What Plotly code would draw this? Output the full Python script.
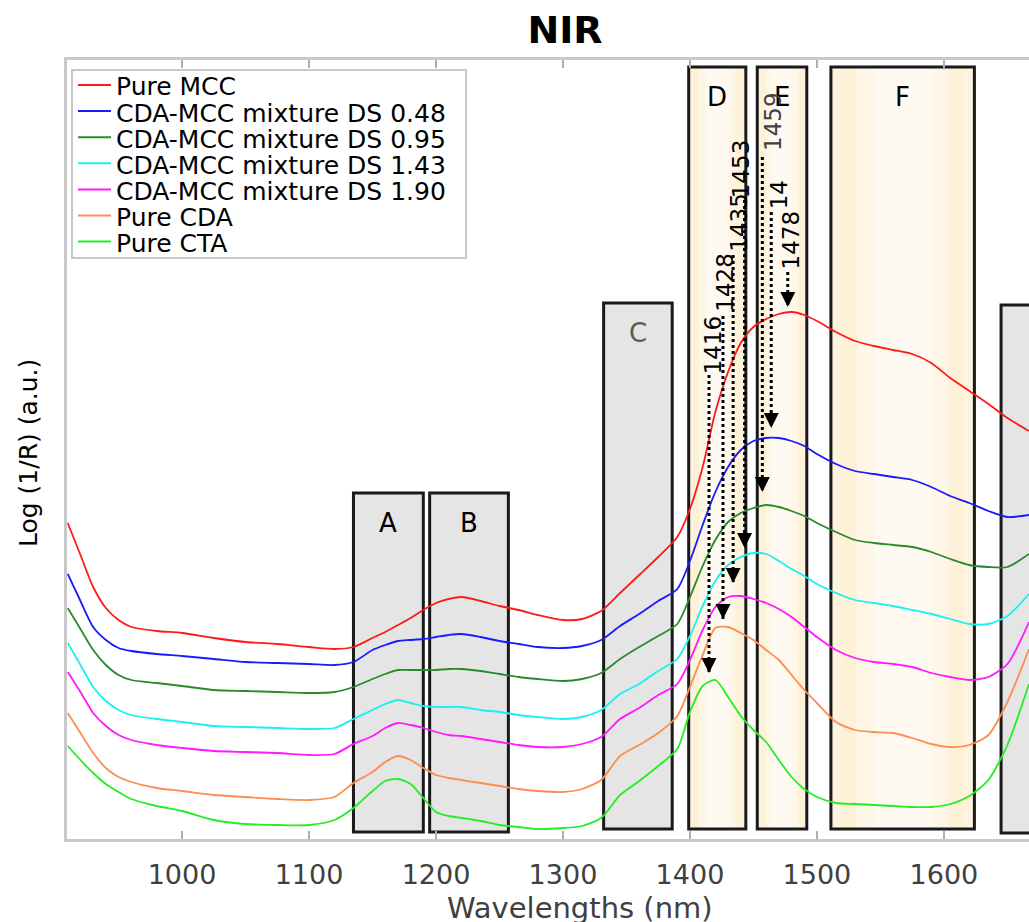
import plotly.graph_objects as go

# ---------------- data ----------------
wavelength = [910, 920, 930, 940, 950, 960, 980, 1000, 1025, 1050, 1075, 1100,
              1120, 1135, 1150, 1160, 1170, 1180, 1190, 1200, 1210, 1220, 1235,
              1250, 1265, 1280, 1300, 1315, 1330, 1345, 1360, 1375, 1390, 1400,
              1410, 1420, 1430, 1440, 1450, 1460, 1470, 1480, 1490, 1500, 1515,
              1530, 1545, 1560, 1575, 1590, 1605, 1620, 1635, 1650, 1667]

pure_mcc = [3.16, 2.84, 2.52, 2.31, 2.19, 2.12, 2.08, 2.06, 2.01, 1.97, 1.95, 1.92,
            1.90, 1.92, 2.01, 2.07, 2.14, 2.21, 2.29, 2.36, 2.40, 2.42, 2.38,
            2.33, 2.29, 2.24, 2.19, 2.20, 2.28, 2.46, 2.64, 2.82, 3.02, 3.30,
            3.72, 4.27, 4.67, 4.96, 5.12, 5.20, 5.25, 5.27, 5.24, 5.18, 5.07,
            4.98, 4.93, 4.89, 4.85, 4.76, 4.61, 4.48, 4.35, 4.21, 4.08]

ds_048 = [2.65, 2.38, 2.12, 1.99, 1.91, 1.88, 1.85, 1.83, 1.80, 1.77, 1.76, 1.75,
          1.74, 1.77, 1.89, 1.94, 1.98, 1.99, 2.00, 2.02, 2.04, 2.05, 2.02,
          1.98, 1.95, 1.92, 1.91, 1.93, 1.99, 2.13, 2.25, 2.38, 2.50, 2.78,
          3.14, 3.47, 3.72, 3.89, 3.98, 4.01, 4.01, 3.98, 3.93, 3.85, 3.75,
          3.68, 3.65, 3.62, 3.59, 3.52, 3.43, 3.36, 3.28, 3.22, 3.24]

ds_095 = [2.31, 2.10, 1.89, 1.74, 1.64, 1.59, 1.56, 1.53, 1.49, 1.48, 1.47, 1.46,
          1.47, 1.52, 1.60, 1.65, 1.69, 1.69, 1.69, 1.69, 1.70, 1.70, 1.68,
          1.65, 1.62, 1.60, 1.58, 1.60, 1.66, 1.80, 1.92, 2.03, 2.15, 2.42,
          2.73, 2.99, 3.17, 3.26, 3.31, 3.34, 3.32, 3.28, 3.23, 3.16, 3.07,
          2.99, 2.96, 2.94, 2.92, 2.87, 2.80, 2.74, 2.72, 2.72, 2.85]

ds_143 = [1.96, 1.74, 1.52, 1.38, 1.29, 1.24, 1.20, 1.17, 1.13, 1.12, 1.11, 1.10,
          1.11, 1.20, 1.29, 1.35, 1.39, 1.36, 1.33, 1.32, 1.32, 1.32, 1.29,
          1.27, 1.24, 1.22, 1.20, 1.22, 1.29, 1.45, 1.55, 1.68, 1.80, 2.03,
          2.33, 2.58, 2.74, 2.82, 2.86, 2.85, 2.78, 2.70, 2.63, 2.55, 2.46,
          2.39, 2.36, 2.33, 2.29, 2.25, 2.20, 2.15, 2.15, 2.23, 2.45]

ds_190 = [1.67, 1.47, 1.26, 1.13, 1.04, 0.99, 0.94, 0.91, 0.88, 0.87, 0.86, 0.84,
          0.85, 0.95, 1.03, 1.11, 1.16, 1.14, 1.11, 1.07, 1.04, 1.03, 1.00,
          0.97, 0.94, 0.92, 0.92, 0.95, 1.02, 1.20, 1.31, 1.44, 1.55, 1.79,
          2.09, 2.32, 2.42, 2.43, 2.40, 2.36, 2.30, 2.22, 2.12, 2.02, 1.89,
          1.81, 1.77, 1.75, 1.72, 1.66, 1.62, 1.59, 1.62, 1.75, 2.17]

pure_cda = [1.26, 1.06, 0.86, 0.71, 0.62, 0.57, 0.51, 0.48, 0.44, 0.42, 0.40, 0.39,
            0.42, 0.56, 0.67, 0.77, 0.83, 0.79, 0.71, 0.64, 0.61, 0.59, 0.56,
            0.53, 0.50, 0.48, 0.47, 0.50, 0.59, 0.83, 0.94, 1.06, 1.23, 1.52,
            1.84, 2.11, 2.12, 2.06, 1.99, 1.89, 1.79, 1.64, 1.49, 1.36, 1.17,
            1.09, 1.07, 1.06, 1.01, 0.95, 0.92, 0.94, 1.04, 1.37, 1.90]

pure_cta = [0.93, 0.79, 0.66, 0.55, 0.47, 0.40, 0.33, 0.28, 0.19, 0.15, 0.14, 0.14,
            0.19, 0.31, 0.48, 0.58, 0.60, 0.55, 0.41, 0.27, 0.23, 0.21, 0.18,
            0.14, 0.12, 0.10, 0.11, 0.13, 0.21, 0.44, 0.58, 0.73, 0.90, 1.27,
            1.53, 1.59, 1.42, 1.23, 1.09, 0.97, 0.79, 0.62, 0.50, 0.42, 0.36,
            0.35, 0.34, 0.33, 0.32, 0.32, 0.35, 0.43, 0.59, 0.94, 1.55]

series_names = ["Pure MCC", "CDA-MCC mixture DS 0.48", "CDA-MCC mixture DS 0.95",
                "CDA-MCC mixture DS 1.43", "CDA-MCC mixture DS 1.90",
                "Pure CDA", "Pure CTA"]
series_values = [pure_mcc, ds_048, ds_095, ds_143, ds_190, pure_cda, pure_cta]
series_colors = ["#ff1a1a", "#1a1aff", "#2a8a2a", "#19f0f0", "#ff19ff",
                 "#ff8c50", "#22ee22"]

# spectral band regions
band_labels = ["A", "B", "C", "D", "E", "F", "G"]
band_start = [1135, 1195, 1332, 1399, 1453, 1511, 1645]
band_end = [1190, 1257, 1386, 1444, 1492, 1624, 1720]
band_low = [0.07, 0.07, 0.10, 0.10, 0.10, 0.10, 0.06]
band_high = [3.46, 3.46, 5.36, 7.72, 7.72, 7.72, 5.34]
band_kind = ["gray", "gray", "gray", "cream", "cream", "cream", "gray"]

# peak annotations (wavelength labels with dotted arrows)
peak_labels = ["1416", "1428", "1435", "1453", "1459", "14", "1478"]
peak_label_colors = ["black", "black", "black", "black", "#404040", "black", "black"]
arrow_x = [1415, 1426, 1434, 1443, 1457, 1464, 1477]
arrow_top = [4.64, 5.23, 5.84, 6.39, 6.82, 6.27, 5.67]
arrow_tip = [1.66, 2.20, 2.56, 2.91, 3.47, 4.11, 5.32]
label_x = [1418, 1427, 1438, 1440, 1465, 1470, 1479.5]
label_bottom = [4.63, 5.25, 5.85, 6.39, 6.86, 6.28, 5.68]

FONT = "DejaVu Sans"

# layout geometry (pixels)
W, H = 1029, 922
ML, MR, MT, MB = 67, 0, 60, 83
PW, PH = W - ML - MR, H - MT - MB


def px(xp):
    return (xp - ML) / PW


def py(yp):
    return (H - MB - yp) / PH


fig = go.Figure()
for name, vals, col in zip(series_names, series_values, series_colors):
    fig.add_trace(go.Scatter(
        x=wavelength, y=vals, mode="lines", name=name, showlegend=False,
        line=dict(color=col, width=1.8, shape="spline", smoothing=0.7)))

# band rectangles
for lab, x0, x1, y0, y1, kind in zip(band_labels, band_start, band_end,
                                      band_low, band_high, band_kind):
    fill = "#e5e5e5" if kind == "gray" else "#fdf3de"
    fig.add_shape(type="rect", xref="x", yref="y", x0=x0, x1=x1, y0=y0, y1=y1,
                  line=dict(width=0), fillcolor=fill, layer="below")
    if kind == "cream":
        for frac, c in [(0.08, "#fdf1d8"), (0.18, "#fef6e6"), (0.30, "#fffaf1")]:
            fig.add_shape(type="rect", xref="x", yref="y",
                          x0=x0 + (x1 - x0) * frac, x1=x1 - (x1 - x0) * frac,
                          y0=y0, y1=y1, line=dict(width=0), fillcolor=c,
                          layer="below")
    fig.add_shape(type="rect", xref="x", yref="y", x0=x0, x1=x1, y0=y0, y1=y1,
                  line=dict(color="#1a1a1a", width=3), fillcolor="rgba(0,0,0,0)",
                  layer="below")
    fig.add_annotation(x=(x0 + x1) / 2, y=y1, xref="x", yref="y", text=lab,
                       showarrow=False, yanchor="middle", yshift=-30,
                       font=dict(family=FONT, size=26,
                                 color="#595959" if lab == "C" else "black"))

# dotted arrows and labels
for lab, col, ax_, top, tip, lx, lb in zip(peak_labels, peak_label_colors, arrow_x,
                                          arrow_top, arrow_tip, label_x, label_bottom):
    fig.add_shape(type="line", xref="x", yref="y", x0=ax_, x1=ax_, y0=top, y1=tip,
                  line=dict(color="black", width=3, dash="dot"), layer="above")
    fig.add_annotation(x=ax_, y=tip, xref="x", yref="y", text="", showarrow=True,
                       ax=0, ay=-16, arrowhead=2, arrowsize=1, arrowwidth=3,
                       arrowcolor="black", standoff=0)
    fig.add_annotation(x=lx, y=lb, xref="x", yref="y", text=lab, showarrow=False,
                       textangle=-90, xanchor="center", yanchor="bottom",
                       font=dict(family=FONT, size=23, color=col))

# legend (drawn as a boxed key in the upper-left corner)
fig.add_shape(type="rect", xref="paper", yref="paper", x0=px(72), x1=px(466),
              y0=py(258), y1=py(70), line=dict(color="#c8c8c8", width=2),
              fillcolor="white", layer="above")
for i, (name, col) in enumerate(zip(series_names, series_colors)):
    yline = 85 + i * 26.1
    fig.add_shape(type="line", xref="paper", yref="paper", x0=px(78), x1=px(111),
                  y0=py(yline), y1=py(yline), line=dict(color=col, width=2),
                  layer="above")
    fig.add_annotation(xref="paper", yref="paper", x=px(115), y=py(yline + 2),
                       text=name, showarrow=False, xanchor="left", yanchor="middle",
                       borderpad=0, font=dict(family=FONT, size=25, color="black"))

# axis titles
fig.add_annotation(xref="paper", yref="paper", x=px(580), y=py(908),
                   text="Wavelengths (nm)", showarrow=False, yanchor="middle",
                   borderpad=0, font=dict(family=FONT, size=29, color="#404040"))
fig.add_annotation(xref="paper", yref="paper", x=px(28), y=py(453),
                   text="Log (1/R) (a.u.)", showarrow=False, textangle=-90,
                   xanchor="center", yanchor="middle",
                   font=dict(family=FONT, size=25, color="black"))

fig.update_layout(
    width=W, height=H,
    margin=dict(l=ML, r=MR, t=MT, b=MB),
    paper_bgcolor="white", plot_bgcolor="white",
    title=dict(text="<b>NIR</b>", x=565 / W, y=1 - 30 / H, xref="container",
               yref="container", xanchor="center", yanchor="middle",
               font=dict(family=FONT, size=38, color="black")),
    showlegend=False,
    xaxis=dict(range=[909.4, 1667], tick0=1000, dtick=100, ticks="inside", ticklen=8,
               tickwidth=1.5, tickcolor="#b0b0b0", showline=True, linecolor="#c8c8c8",
               linewidth=3, mirror="ticks", showgrid=False, zeroline=False,
               tickfont=dict(family=FONT, size=27, color="#404040"),
               ticklabelstandoff=10),
    yaxis=dict(range=[0, 7.79], showline=True, linecolor="#c8c8c8", linewidth=3,
               mirror=False, ticks="", showticklabels=False, showgrid=False,
               zeroline=False),
)

fig.write_html("out.html", config={"displayModeBar": False},
               post_script="document.body.style.margin='0px';document.body.style.overflow='hidden';")
